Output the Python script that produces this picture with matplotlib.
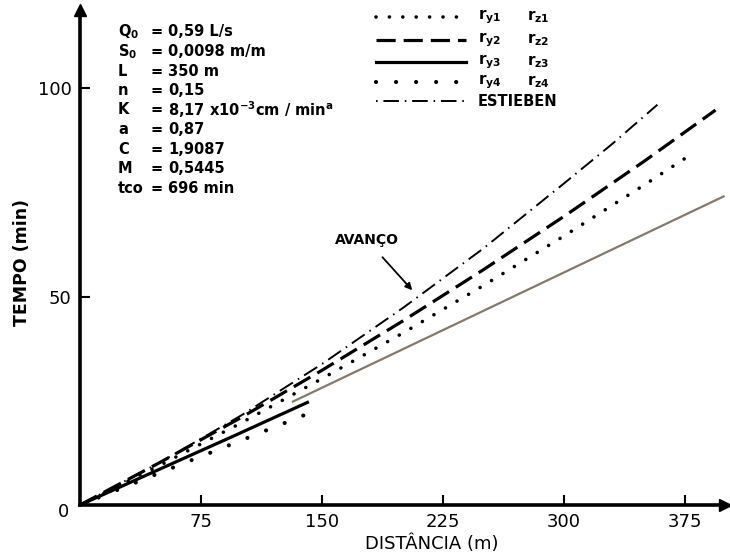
import matplotlib
matplotlib.use("Agg")
import matplotlib.pyplot as plt
from matplotlib.lines import Line2D

plt.rcParams['font.family'] = ['DejaVu Sans']
plt.rcParams['mathtext.fontset'] = 'dejavusans'

# ---- data ----
x_ry1 = [0, 50, 100, 150, 200, 250, 300, 350, 377]
y_ry1 = [0, 9.6, 19.7, 30.3, 41.2, 52.6, 64.5, 76.8, 83.6]

x_ry2 = [0, 50, 100, 150, 200, 250, 300, 350, 394]
y_ry2 = [0, 10.3, 21.0, 32.3, 44.1, 56.4, 69.2, 82.5, 94.7]

x_ry3 = [0, 50, 95, 141]
y_ry3 = [0, 8.7, 16.5, 24.6]

x_ry3_ext = [132, 399]
y_ry3_ext = [24.8, 74.0]

x_ry4 = [0, 50, 100, 149]
y_ry4 = [0, 7.8, 15.5, 23.1]

x_est = [0, 50, 100, 150, 200, 250, 300, 330, 358]
y_est = [0, 10.3, 21.5, 33.8, 47.2, 61.5, 77.1, 86.6, 96.0]

x_ticks = [75, 150, 225, 300, 375]
y_ticks = [50, 100]

params = [
    (r'$\mathbf{Q_0}$', '0,59 L/s'),
    (r'$\mathbf{S_0}$', '0,0098 m/m'),
    ('L', '350 m'),
    ('n', '0,15'),
    ('K', r'8,17 x10$^{\mathbf{-3}}$cm / min$^{\mathbf{a}}$'),
    ('a', '0,87'),
    ('C', '1,9087'),
    ('M', '0,5445'),
    ('tco', '696 min'),
]

W, H = 730, 558
fig = plt.figure(figsize=(W / 100, H / 100), dpi=100)
x0p, x1p, y0p, y1p = 80, 725, 505, 10
ax = fig.add_axes([x0p / W, 1 - y0p / H, (x1p - x0p) / W, (y0p - y1p) / H])
ax.set_xlim(0, (x1p - x0p) / 1.613)
ax.set_ylim(0, (y0p - y1p) / 4.17)

for s in ['top', 'right']:
    ax.spines[s].set_visible(False)
for s in ['left', 'bottom']:
    ax.spines[s].set_linewidth(2.6)
ax.plot(1, 0, '>', color='black', ms=8, transform=ax.transAxes, clip_on=False)
ax.plot(0, 1, '^', color='black', ms=8, transform=ax.transAxes, clip_on=False)

ax.set_xticks(x_ticks)
ax.set_yticks(y_ticks)
ax.tick_params(direction='in', length=7, width=1.5, labelsize=13, pad=6)
fig.text(63 / W, 1 - 512 / H, '0', fontsize=13, ha='center', va='center')

# curves
ax.plot(x_est, y_est, color='black', lw=1.4, linestyle=(0, (8, 3, 0.8, 3)))
ax.plot(x_ry2, y_ry2, color='black', lw=2.3, linestyle=(0, (6, 2.5)))
ax.plot(x_ry1, y_ry1, color='black', lw=2.6, linestyle=(0, (0.01, 3.7)),
        dash_capstyle='round')
ax.plot(x_ry3, y_ry3, color='black', lw=2.3)
ax.plot(x_ry3_ext, y_ry3_ext, color='#857a6a', lw=1.6)
ax.plot(x_ry4, y_ry4, color='black', lw=3.0, linestyle=(0, (0.01, 4.8)),
        dash_capstyle='round')

# annotation
ax.annotate('AVANÇO', xy=(206, 51.5), xytext=(178, 63.5),
            fontsize=10, fontweight='bold', ha='center', va='center',
            arrowprops=dict(arrowstyle='-|>', color='black', lw=1.3,
                            shrinkA=7, shrinkB=0, mutation_scale=10))

# parameter block
for i, (lab, val) in enumerate(params):
    yy = 1 - (32 + i * 19.5) / H
    fig.text(118 / W, yy, lab, fontsize=10.5, fontweight='bold', va='center')
    fig.text(151 / W, yy, '=', fontsize=10.5, fontweight='bold', va='center')
    fig.text(168 / W, yy, val, fontsize=10.5, fontweight='bold', va='center')

# legend (manual)
leg_rows = [
    (dict(lw=2.6, linestyle=(0, (0.01, 3.7)), dash_capstyle='round'), 'y1', 'z1', 17),
    (dict(lw=2.3, linestyle=(0, (6, 2.5))), 'y2', 'z2', 40),
    (dict(lw=2.3), 'y3', 'z3', 62),
    (dict(lw=3.0, linestyle=(0, (0.01, 4.8)), dash_capstyle='round'), 'y4', 'z4', 82),
    (dict(lw=1.4, linestyle=(0, (0.8, 3, 8, 3))), None, None, 101),
]
for style, a, b, yp in leg_rows:
    yy = 1 - yp / H
    fig.add_artist(Line2D([376 / W, 466 / W], [yy, yy], color='black',
                          transform=fig.transFigure, **style))
    if a is None:
        fig.text(478 / W, yy, 'ESTIEBEN', fontsize=10.5, fontweight='bold', va='center')
    else:
        fig.text(478 / W, yy, r'$\mathbf{r_{%s}}$' % a, fontsize=11, va='center')
        fig.text(527 / W, yy, r'$\mathbf{r_{%s}}$' % b, fontsize=11, va='center')

fig.text(22 / W, 1 - 262 / H, 'TEMPO (min)', rotation=90, fontsize=12.5,
         fontweight='bold', ha='center', va='center')
fig.text(432 / W, 1 - 544 / H, 'DISTÂNCIA (m)', fontsize=13,
         ha='center', va='center')

fig.savefig('out.png', dpi=100)
